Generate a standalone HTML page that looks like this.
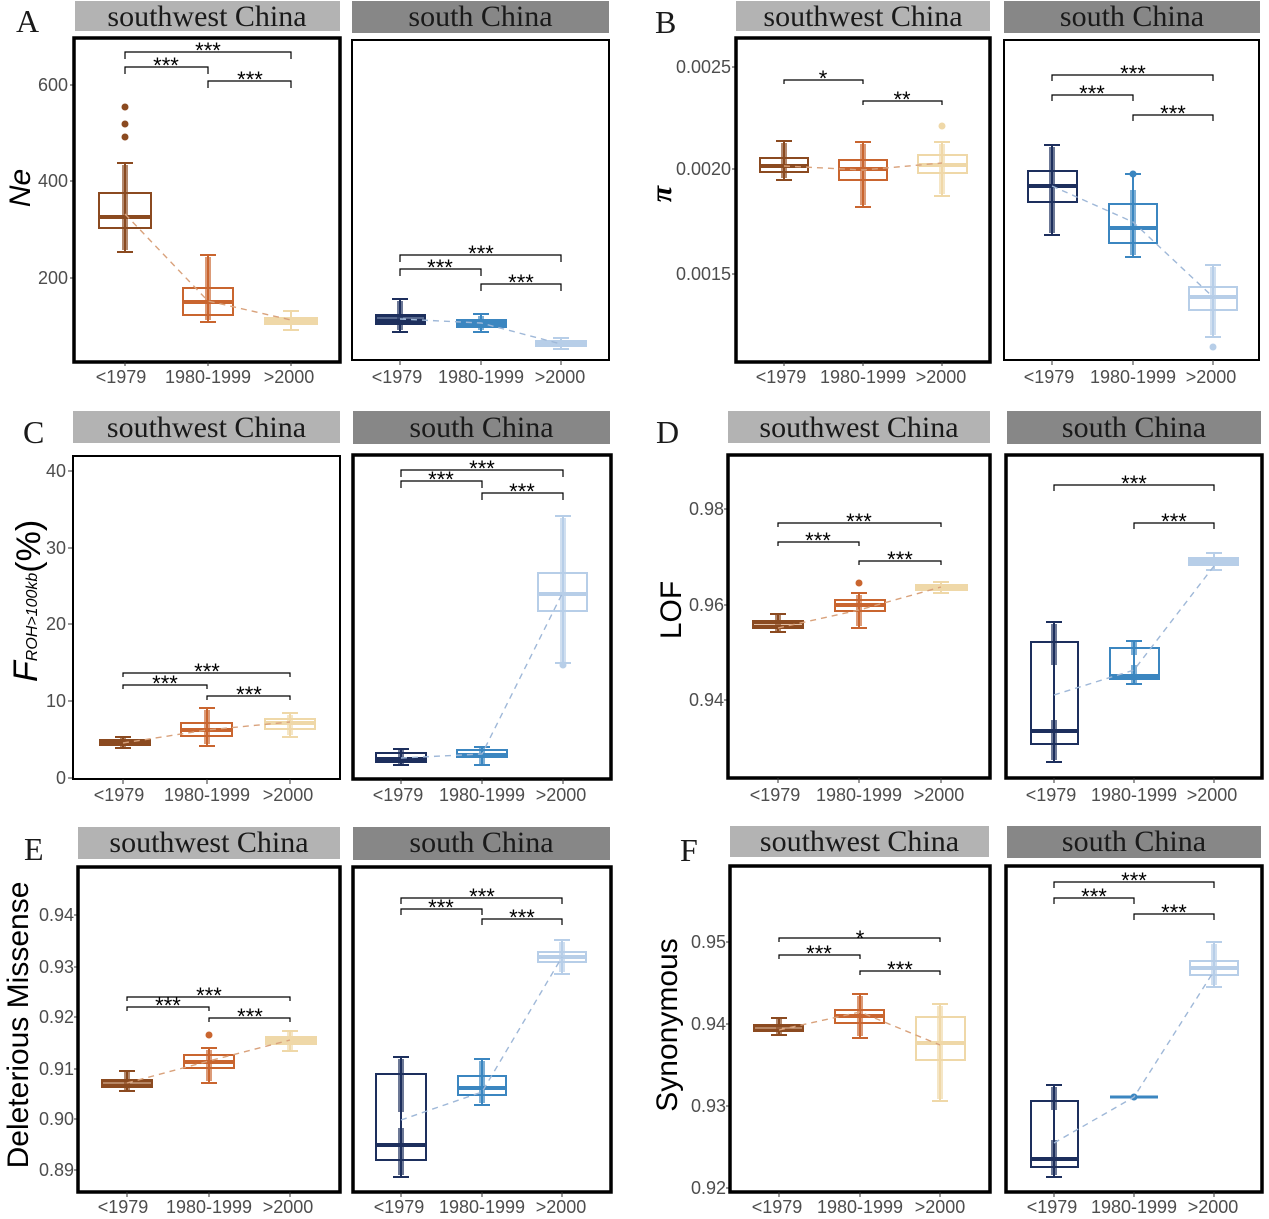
<!DOCTYPE html>
<html><head><meta charset="utf-8"><style>
html,body{margin:0;padding:0;background:#fff;}
svg{display:block;}
.st{font-family:"Liberation Serif","Times New Roman",serif;font-size:30px;fill:#1a1a1a;text-anchor:middle;}
.pl{font-family:"Liberation Serif","Times New Roman",serif;font-size:32px;fill:#1a1a1a;}
.tk{font-family:"Liberation Sans",Arial,sans-serif;font-size:18px;fill:#4d4d4d;}
.xl{text-anchor:middle;}
.yl{text-anchor:end;}
.ax{font-family:"Liberation Sans",Arial,sans-serif;font-size:30px;fill:#000;text-anchor:middle;}
.sg{font-family:"Liberation Sans",Arial,sans-serif;font-size:22px;fill:#000;text-anchor:middle;}
.br{fill:none;stroke:#000;stroke-width:1.2;}
.tm{stroke:#333;stroke-width:1;}
.fr{fill:none;stroke:#000;}
.d1{fill:none;stroke:#D9A27C;stroke-width:1.4;stroke-dasharray:6 5;}
.d2{fill:none;stroke:#9FB8D8;stroke-width:1.4;stroke-dasharray:6 5;}
</style></head><body>
<svg width="1269" height="1219" viewBox="0 0 1269 1219" xmlns="http://www.w3.org/2000/svg">
<rect width="1269" height="1219" fill="#fff"/>

<!-- ================= ROW 1 ================= -->
<text class="pl" x="16" y="32">A</text>
<text class="pl" x="655" y="33">B</text>
<rect x="75" y="1" width="265" height="30" fill="#b3b3b3"/>
<text class="st" x="207" y="26">southwest China</text>
<rect x="352" y="1" width="257" height="32" fill="#878787"/>
<text class="st" x="480.5" y="26">south China</text>
<rect x="736" y="1" width="254" height="30" fill="#b3b3b3"/>
<text class="st" x="863" y="26">southwest China</text>
<rect x="1004" y="1" width="256" height="32" fill="#878787"/>
<text class="st" x="1132" y="26">south China</text>

<!-- A axis label -->
<text class="ax" font-style="italic" font-size="28" transform="translate(30,188) rotate(-90)">Ne</text>
<text class="tk yl" x="68" y="91">600</text>
<text class="tk yl" x="68" y="187">400</text>
<text class="tk yl" x="68" y="284">200</text>
<line class="tm" x1="70" y1="85" x2="74" y2="85"/><line class="tm" x1="70" y1="181" x2="74" y2="181"/><line class="tm" x1="70" y1="278" x2="74" y2="278"/>

<!-- A SW -->
<g stroke="#8B4A20" fill="none" stroke-width="2">
<line x1="125" y1="163" x2="125" y2="252"/><line x1="117" y1="163" x2="133" y2="163"/><line x1="117" y1="252" x2="133" y2="252"/>
<rect x="99" y="193" width="52" height="35"/><line x1="99" y1="217" x2="151" y2="217" stroke-width="4"/>
<line x1="125" y1="165" x2="125" y2="250" stroke-width="6" stroke-opacity=".65"/>
</g>
<g fill="#8B4A20"><circle cx="125" cy="107" r="3.5"/><circle cx="125" cy="124" r="3.5"/><circle cx="125" cy="137" r="3.5"/></g>
<g stroke="#C9652F" fill="none" stroke-width="2">
<line x1="208" y1="255" x2="208" y2="322"/><line x1="200" y1="255" x2="216" y2="255"/><line x1="200" y1="322" x2="216" y2="322"/>
<rect x="183" y="288" width="50" height="27"/><line x1="183" y1="302" x2="233" y2="302" stroke-width="4"/>
<line x1="208" y1="257" x2="208" y2="320" stroke-width="6" stroke-opacity=".65"/>
</g>
<g stroke="#EFD8A8" fill="none" stroke-width="2">
<line x1="291" y1="311" x2="291" y2="330"/><line x1="283" y1="311" x2="299" y2="311"/><line x1="283" y1="330" x2="299" y2="330"/>
<rect x="265" y="318" width="52" height="6" fill="#EFD8A8"/>
</g>
<polyline class="d1" points="125,214 208,301 291,320"/>
<path class="br" d="M125 59V52H291V59"/><text class="sg" x="208" y="58">***</text>
<path class="br" d="M125 74V67H208V74"/><text class="sg" x="166" y="73">***</text>
<path class="br" d="M208 88V81H291V88"/><text class="sg" x="250" y="87">***</text>
<rect class="fr" x="74" y="38" width="266" height="324" stroke-width="3.5"/>
<line class="tm" x1="125" y1="362" x2="125" y2="366"/><line class="tm" x1="208" y1="362" x2="208" y2="366"/><line class="tm" x1="291" y1="362" x2="291" y2="366"/>
<text class="tk xl" x="121" y="383">&lt;1979</text><text class="tk xl" x="208" y="383">1980-1999</text><text class="tk xl" x="289" y="383">&gt;2000</text>

<!-- A S -->
<g stroke="#1D2F5D" fill="none" stroke-width="2">
<line x1="400" y1="299" x2="400" y2="332"/><line x1="392" y1="299" x2="408" y2="299"/><line x1="392" y1="332" x2="408" y2="332"/>
<rect x="376" y="315" width="49" height="9" fill="#1D2F5D"/><line x1="377" y1="318" x2="424" y2="318" stroke="#8fa0c0" stroke-width="1"/>
<line x1="400" y1="301" x2="400" y2="330" stroke-width="6" stroke-opacity=".65"/>
</g>
<g stroke="#3B86C0" fill="none" stroke-width="2">
<line x1="481" y1="314" x2="481" y2="332"/><line x1="473" y1="314" x2="489" y2="314"/><line x1="473" y1="332" x2="489" y2="332"/>
<rect x="457" y="320" width="49" height="7" fill="#3B86C0"/>
<line x1="481" y1="316" x2="481" y2="330" stroke-width="6" stroke-opacity=".65"/>
</g>
<g stroke="#B7CEE8" fill="none" stroke-width="2">
<line x1="561" y1="338" x2="561" y2="349"/><line x1="553" y1="338" x2="569" y2="338"/><line x1="553" y1="349" x2="569" y2="349"/>
<rect x="536" y="341" width="50" height="5" fill="#B7CEE8"/>
</g>
<polyline class="d2" points="400,319 481,323 561,344"/>
<path class="br" d="M400 262V255H561V262"/><text class="sg" x="481" y="261">***</text>
<path class="br" d="M400 276V269H481V276"/><text class="sg" x="440" y="275">***</text>
<path class="br" d="M481 291V284H561V291"/><text class="sg" x="521" y="290">***</text>
<rect class="fr" x="352" y="40" width="257" height="320" stroke-width="2"/>
<line class="tm" x1="400" y1="360" x2="400" y2="365"/><line class="tm" x1="481" y1="360" x2="481" y2="365"/><line class="tm" x1="561" y1="360" x2="561" y2="365"/>
<text class="tk xl" x="397" y="383">&lt;1979</text><text class="tk xl" x="481" y="383">1980-1999</text><text class="tk xl" x="560" y="383">&gt;2000</text>

<!-- B axis label -->
<text font-family="Liberation Serif, serif" font-style="italic" font-weight="bold" font-size="30" text-anchor="middle" transform="translate(671,194) rotate(-90)">π</text>
<text class="tk yl" x="731" y="73">0.0025</text>
<text class="tk yl" x="731" y="175">0.0020</text>
<text class="tk yl" x="731" y="280">0.0015</text>
<line class="tm" x1="732" y1="67" x2="736" y2="67"/><line class="tm" x1="732" y1="169" x2="736" y2="169"/><line class="tm" x1="732" y1="274" x2="736" y2="274"/>

<!-- B SW -->
<g stroke="#8B4A20" fill="none" stroke-width="2">
<line x1="784" y1="141" x2="784" y2="180"/><line x1="776" y1="141" x2="792" y2="141"/><line x1="776" y1="180" x2="792" y2="180"/>
<rect x="760" y="158" width="48" height="14"/><line x1="760" y1="166" x2="808" y2="166" stroke-width="4"/>
<line x1="784" y1="143" x2="784" y2="178" stroke-width="6" stroke-opacity=".65"/>
</g>
<g stroke="#C9652F" fill="none" stroke-width="2">
<line x1="863" y1="142" x2="863" y2="207"/><line x1="855" y1="142" x2="871" y2="142"/><line x1="855" y1="207" x2="871" y2="207"/>
<rect x="839" y="160" width="48" height="20"/><line x1="839" y1="169" x2="887" y2="169" stroke-width="4"/>
<line x1="863" y1="144" x2="863" y2="205" stroke-width="6" stroke-opacity=".65"/>
</g>
<g stroke="#EFD8A8" fill="none" stroke-width="2">
<line x1="942" y1="142" x2="942" y2="196"/><line x1="934" y1="142" x2="950" y2="142"/><line x1="934" y1="196" x2="950" y2="196"/>
<rect x="918" y="155" width="49" height="18"/><line x1="918" y1="165" x2="967" y2="165" stroke-width="4"/>
<line x1="942" y1="144" x2="942" y2="194" stroke-width="6" stroke-opacity=".65"/>
</g>
<circle cx="942" cy="126" r="3.5" fill="#EFD8A8"/>
<polyline class="d1" points="784,166 863,170 942,163"/>
<path class="br" d="M784 84V80H863V84"/><text class="sg" x="823" y="86">*</text>
<path class="br" d="M863 105V101H942V105"/><text class="sg" x="902" y="107">**</text>
<rect class="fr" x="736" y="38" width="254" height="324" stroke-width="3.5"/>
<line class="tm" x1="784" y1="362" x2="784" y2="366"/><line class="tm" x1="863" y1="362" x2="863" y2="366"/><line class="tm" x1="942" y1="362" x2="942" y2="366"/>
<text class="tk xl" x="781" y="383">&lt;1979</text><text class="tk xl" x="863" y="383">1980-1999</text><text class="tk xl" x="941" y="383">&gt;2000</text>

<!-- B S -->
<g stroke="#1D2F5D" fill="none" stroke-width="2">
<line x1="1052" y1="145" x2="1052" y2="235"/><line x1="1044" y1="145" x2="1060" y2="145"/><line x1="1044" y1="235" x2="1060" y2="235"/>
<rect x="1028" y="171" width="49" height="31"/><line x1="1028" y1="186" x2="1077" y2="186" stroke-width="4"/>
<line x1="1052" y1="147" x2="1052" y2="233" stroke-width="6" stroke-opacity=".65"/>
</g>
<g stroke="#3B86C0" fill="none" stroke-width="2">
<line x1="1133" y1="174" x2="1133" y2="257"/><line x1="1125" y1="174" x2="1141" y2="174"/><line x1="1125" y1="257" x2="1141" y2="257"/>
<rect x="1109" y="204" width="48" height="39"/><line x1="1109" y1="228" x2="1157" y2="228" stroke-width="4"/>
<line x1="1133" y1="190" x2="1133" y2="255" stroke-width="6" stroke-opacity=".65"/>
</g>
<circle cx="1133" cy="174" r="3.5" fill="#3B86C0"/>
<g stroke="#B7CEE8" fill="none" stroke-width="2">
<line x1="1213" y1="265" x2="1213" y2="337"/><line x1="1205" y1="265" x2="1221" y2="265"/><line x1="1205" y1="337" x2="1221" y2="337"/>
<rect x="1189" y="287" width="48" height="23"/><line x1="1189" y1="297" x2="1237" y2="297" stroke-width="4"/>
<line x1="1213" y1="267" x2="1213" y2="335" stroke-width="6" stroke-opacity=".65"/>
</g>
<circle cx="1213" cy="347" r="3.5" fill="#B7CEE8"/>
<polyline class="d2" points="1052,186 1133,222 1213,297"/>
<path class="br" d="M1052 81V75H1213V81"/><text class="sg" x="1133" y="81">***</text>
<path class="br" d="M1052 101V95H1133V101"/><text class="sg" x="1092" y="101">***</text>
<path class="br" d="M1133 121V115H1213V121"/><text class="sg" x="1173" y="121">***</text>
<rect class="fr" x="1004" y="40" width="255" height="320" stroke-width="2"/>
<line class="tm" x1="1052" y1="360" x2="1052" y2="365"/><line class="tm" x1="1133" y1="360" x2="1133" y2="365"/><line class="tm" x1="1213" y1="360" x2="1213" y2="365"/>
<text class="tk xl" x="1049" y="383">&lt;1979</text><text class="tk xl" x="1133" y="383">1980-1999</text><text class="tk xl" x="1211" y="383">&gt;2000</text>

<!-- ================= ROW 2 ================= -->
<text class="pl" x="23" y="443">C</text>
<text class="pl" x="656" y="443">D</text>
<rect x="73" y="411" width="267" height="32" fill="#b3b3b3"/>
<text class="st" x="206.5" y="437">southwest China</text>
<rect x="353" y="411" width="257" height="33" fill="#878787"/>
<text class="st" x="481.5" y="437">south China</text>
<rect x="728" y="411" width="262" height="32" fill="#b3b3b3"/>
<text class="st" x="859" y="437">southwest China</text>
<rect x="1007" y="411" width="254" height="33" fill="#878787"/>
<text class="st" x="1134" y="437">south China</text>

<!-- C axis label -->
<text font-family="Liberation Sans, Arial, sans-serif" fill="#000" transform="translate(37,682) rotate(-90)"><tspan font-size="34" font-style="italic">F</tspan><tspan font-size="16" font-style="italic" dy="0">ROH&gt;100kb</tspan><tspan font-size="34" dy="3">(%)</tspan></text>
<text class="tk yl" x="66" y="477">40</text>
<text class="tk yl" x="66" y="554">30</text>
<text class="tk yl" x="66" y="630">20</text>
<text class="tk yl" x="66" y="707">10</text>
<text class="tk yl" x="66" y="784">0</text>
<line class="tm" x1="68" y1="471" x2="73" y2="471"/><line class="tm" x1="68" y1="548" x2="73" y2="548"/><line class="tm" x1="68" y1="624" x2="73" y2="624"/><line class="tm" x1="68" y1="701" x2="73" y2="701"/><line class="tm" x1="68" y1="778" x2="73" y2="778"/>

<!-- C SW -->
<g stroke="#8B4A20" fill="none" stroke-width="2">
<line x1="123" y1="737" x2="123" y2="748"/><line x1="115" y1="737" x2="131" y2="737"/><line x1="115" y1="748" x2="131" y2="748"/>
<rect x="100" y="740" width="50" height="5" fill="#8B4A20"/>
<line x1="123" y1="738" x2="123" y2="747" stroke-width="6" stroke-opacity=".65"/>
</g>
<g stroke="#C9652F" fill="none" stroke-width="2">
<line x1="207" y1="708" x2="207" y2="746"/><line x1="199" y1="708" x2="215" y2="708"/><line x1="199" y1="746" x2="215" y2="746"/>
<rect x="181" y="723" width="51" height="13"/><line x1="181" y1="730" x2="232" y2="730" stroke-width="4"/>
<line x1="207" y1="710" x2="207" y2="744" stroke-width="6" stroke-opacity=".65"/>
</g>
<g stroke="#EFD8A8" fill="none" stroke-width="2">
<line x1="290" y1="713" x2="290" y2="737"/><line x1="282" y1="713" x2="298" y2="713"/><line x1="282" y1="737" x2="298" y2="737"/>
<rect x="265" y="719" width="50" height="10"/><line x1="265" y1="723" x2="315" y2="723" stroke-width="4"/>
<line x1="290" y1="715" x2="290" y2="735" stroke-width="6" stroke-opacity=".65"/>
</g>
<polyline class="d1" points="123,743 207,730 290,722"/>
<path class="br" d="M123 677V673H290V677"/><text class="sg" x="207" y="679">***</text>
<path class="br" d="M123 689V685H207V689"/><text class="sg" x="165" y="691">***</text>
<path class="br" d="M207 700V696H290V700"/><text class="sg" x="249" y="702">***</text>
<rect class="fr" x="73" y="456" width="267" height="323" stroke-width="2"/>
<line class="tm" x1="123" y1="779" x2="123" y2="784"/><line class="tm" x1="207" y1="779" x2="207" y2="784"/><line class="tm" x1="290" y1="779" x2="290" y2="784"/>
<text class="tk xl" x="119" y="801">&lt;1979</text><text class="tk xl" x="207" y="801">1980-1999</text><text class="tk xl" x="288" y="801">&gt;2000</text>

<!-- C S -->
<g stroke="#1D2F5D" fill="none" stroke-width="2">
<line x1="401" y1="749" x2="401" y2="765"/><line x1="393" y1="749" x2="409" y2="749"/><line x1="393" y1="765" x2="409" y2="765"/>
<rect x="376" y="753" width="50" height="9"/><line x1="376" y1="759" x2="426" y2="759" stroke-width="4"/>
<line x1="401" y1="750" x2="401" y2="764" stroke-width="6" stroke-opacity=".65"/>
</g>
<g stroke="#3B86C0" fill="none" stroke-width="2">
<line x1="482" y1="747" x2="482" y2="765"/><line x1="474" y1="747" x2="490" y2="747"/><line x1="474" y1="765" x2="490" y2="765"/>
<rect x="457" y="750" width="50" height="7"/><line x1="457" y1="755" x2="507" y2="755" stroke-width="4"/>
<line x1="482" y1="748" x2="482" y2="764" stroke-width="6" stroke-opacity=".65"/>
</g>
<g stroke="#B7CEE8" fill="none" stroke-width="2">
<line x1="563" y1="516" x2="563" y2="663"/><line x1="555" y1="516" x2="571" y2="516"/><line x1="555" y1="663" x2="571" y2="663"/>
<rect x="538" y="573" width="49" height="38"/><line x1="538" y1="594" x2="587" y2="594" stroke-width="4"/>
<line x1="563" y1="518" x2="563" y2="662" stroke-width="6" stroke-opacity=".65"/>
</g>
<circle cx="563" cy="665" r="3.5" fill="#B7CEE8"/>
<polyline class="d2" points="401,758 482,754 563,592"/>
<path class="br" d="M401 477V470H563V477"/><text class="sg" x="482" y="476">***</text>
<path class="br" d="M401 488V481H482V488"/><text class="sg" x="441" y="487">***</text>
<path class="br" d="M482 500V493H563V500"/><text class="sg" x="522" y="499">***</text>
<rect class="fr" x="353" y="455" width="258" height="324" stroke-width="3.5"/>
<line class="tm" x1="401" y1="779" x2="401" y2="784"/><line class="tm" x1="482" y1="779" x2="482" y2="784"/><line class="tm" x1="563" y1="779" x2="563" y2="784"/>
<text class="tk xl" x="398" y="801">&lt;1979</text><text class="tk xl" x="482" y="801">1980-1999</text><text class="tk xl" x="561" y="801">&gt;2000</text>

<!-- D axis label -->
<text class="ax" font-size="30" transform="translate(681,610) rotate(-90)">LOF</text>
<text class="tk yl" x="724" y="515">0.98</text>
<text class="tk yl" x="724" y="611">0.96</text>
<text class="tk yl" x="724" y="706">0.94</text>
<line class="tm" x1="724" y1="509" x2="728" y2="509"/><line class="tm" x1="724" y1="605" x2="728" y2="605"/><line class="tm" x1="724" y1="700" x2="728" y2="700"/>

<!-- D SW -->
<g stroke="#8B4A20" fill="none" stroke-width="2">
<line x1="778" y1="614" x2="778" y2="632"/><line x1="770" y1="614" x2="786" y2="614"/><line x1="770" y1="632" x2="786" y2="632"/>
<rect x="753" y="621" width="50" height="7" fill="#8B4A20"/><line x1="754" y1="624.5" x2="802" y2="624.5" stroke="#e3c2a8" stroke-width="1"/>
<line x1="778" y1="615" x2="778" y2="631" stroke-width="6" stroke-opacity=".65"/>
</g>
<g stroke="#C9652F" fill="none" stroke-width="2">
<line x1="859" y1="593" x2="859" y2="628"/><line x1="851" y1="593" x2="867" y2="593"/><line x1="851" y1="628" x2="867" y2="628"/>
<rect x="835" y="600" width="50" height="11"/><line x1="835" y1="605" x2="885" y2="605" stroke-width="4"/>
<line x1="859" y1="595" x2="859" y2="626" stroke-width="6" stroke-opacity=".65"/>
</g>
<circle cx="859" cy="583" r="3.5" fill="#C9652F"/>
<g stroke="#EFD8A8" fill="none" stroke-width="2">
<line x1="941" y1="582" x2="941" y2="593"/><line x1="933" y1="582" x2="949" y2="582"/><line x1="933" y1="593" x2="949" y2="593"/>
<rect x="916" y="585" width="51" height="5" fill="#EFD8A8"/>
</g>
<polyline class="d1" points="778,628 859,610 941,587"/>
<path class="br" d="M778 527V523H941V527"/><text class="sg" x="859" y="529">***</text>
<path class="br" d="M778 546V542H859V546"/><text class="sg" x="818" y="548">***</text>
<path class="br" d="M859 565V561H941V565"/><text class="sg" x="900" y="567">***</text>
<rect class="fr" x="728" y="455" width="262" height="323" stroke-width="3.5"/>
<line class="tm" x1="778" y1="778" x2="778" y2="783"/><line class="tm" x1="859" y1="778" x2="859" y2="783"/><line class="tm" x1="941" y1="778" x2="941" y2="783"/>
<text class="tk xl" x="775" y="801">&lt;1979</text><text class="tk xl" x="859" y="801">1980-1999</text><text class="tk xl" x="939" y="801">&gt;2000</text>

<!-- D S -->
<g stroke="#1D2F5D" fill="none" stroke-width="2">
<line x1="1054" y1="622" x2="1054" y2="762"/><line x1="1046" y1="622" x2="1062" y2="622"/><line x1="1046" y1="762" x2="1062" y2="762"/>
<rect x="1031" y="642" width="47" height="102"/><line x1="1031" y1="731" x2="1078" y2="731" stroke-width="4"/>
<line x1="1054" y1="624" x2="1054" y2="665" stroke-width="6" stroke-opacity=".65"/>
<line x1="1054" y1="720" x2="1054" y2="760" stroke-width="6" stroke-opacity=".65"/>
</g>
<g stroke="#3B86C0" fill="none" stroke-width="2">
<line x1="1134" y1="641" x2="1134" y2="684"/><line x1="1126" y1="641" x2="1142" y2="641"/><line x1="1126" y1="684" x2="1142" y2="684"/>
<rect x="1110" y="648" width="49" height="31"/><line x1="1110" y1="676" x2="1159" y2="676" stroke-width="4"/>
<line x1="1134" y1="642" x2="1134" y2="655" stroke-width="6" stroke-opacity=".65"/>
<line x1="1134" y1="665" x2="1134" y2="683" stroke-width="6" stroke-opacity=".65"/>
</g>
<g stroke="#B7CEE8" fill="none" stroke-width="2">
<line x1="1214" y1="553" x2="1214" y2="570"/><line x1="1206" y1="553" x2="1222" y2="553"/><line x1="1206" y1="570" x2="1222" y2="570"/>
<rect x="1189" y="558" width="49" height="7" fill="#B7CEE8"/>
</g>
<polyline class="d2" points="1054,695 1134,670 1214,566"/>
<path class="br" d="M1054 491V485H1214V491"/><text class="sg" x="1134" y="491">***</text>
<path class="br" d="M1134 529V523H1214V529"/><text class="sg" x="1174" y="529">***</text>
<rect class="fr" x="1006" y="455" width="256" height="323" stroke-width="3.5"/>
<line class="tm" x1="1054" y1="778" x2="1054" y2="783"/><line class="tm" x1="1134" y1="778" x2="1134" y2="783"/><line class="tm" x1="1214" y1="778" x2="1214" y2="783"/>
<text class="tk xl" x="1051" y="801">&lt;1979</text><text class="tk xl" x="1134" y="801">1980-1999</text><text class="tk xl" x="1212" y="801">&gt;2000</text>

<!-- ================= ROW 3 ================= -->
<text class="pl" x="24" y="860">E</text>
<text class="pl" x="680" y="861">F</text>
<rect x="78" y="827" width="262" height="32" fill="#b3b3b3"/>
<text class="st" x="209" y="852">southwest China</text>
<rect x="353" y="827" width="257" height="33" fill="#878787"/>
<text class="st" x="481.5" y="852">south China</text>
<rect x="730" y="826" width="259" height="31" fill="#b3b3b3"/>
<text class="st" x="859.5" y="851">southwest China</text>
<rect x="1007" y="826" width="254" height="32" fill="#878787"/>
<text class="st" x="1134" y="851">south China</text>

<!-- E axis label -->
<text class="ax" font-size="30" transform="translate(28,1025) rotate(-90)">Deleterious Missense</text>
<text class="tk yl" x="74" y="921">0.94</text>
<text class="tk yl" x="74" y="973">0.93</text>
<text class="tk yl" x="74" y="1023">0.92</text>
<text class="tk yl" x="74" y="1075">0.91</text>
<text class="tk yl" x="74" y="1125">0.90</text>
<text class="tk yl" x="74" y="1176">0.89</text>
<line class="tm" x1="74" y1="915" x2="78" y2="915"/><line class="tm" x1="74" y1="967" x2="78" y2="967"/><line class="tm" x1="74" y1="1017" x2="78" y2="1017"/><line class="tm" x1="74" y1="1069" x2="78" y2="1069"/><line class="tm" x1="74" y1="1119" x2="78" y2="1119"/><line class="tm" x1="74" y1="1170" x2="78" y2="1170"/>

<!-- E SW -->
<g stroke="#8B4A20" fill="none" stroke-width="2">
<line x1="127" y1="1071" x2="127" y2="1091"/><line x1="119" y1="1071" x2="135" y2="1071"/><line x1="119" y1="1091" x2="135" y2="1091"/>
<rect x="102" y="1080" width="50" height="7" fill="#8B4A20"/><line x1="103" y1="1083" x2="151" y2="1083" stroke="#e3c2a8" stroke-width="1"/>
<line x1="127" y1="1072" x2="127" y2="1090" stroke-width="6" stroke-opacity=".65"/>
</g>
<g stroke="#C9652F" fill="none" stroke-width="2">
<line x1="209" y1="1048" x2="209" y2="1083"/><line x1="201" y1="1048" x2="217" y2="1048"/><line x1="201" y1="1083" x2="217" y2="1083"/>
<rect x="184" y="1055" width="50" height="13"/><line x1="184" y1="1062" x2="234" y2="1062" stroke-width="4"/>
<line x1="209" y1="1050" x2="209" y2="1081" stroke-width="6" stroke-opacity=".65"/>
</g>
<circle cx="209" cy="1035" r="3.5" fill="#C9652F"/>
<g stroke="#EFD8A8" fill="none" stroke-width="2">
<line x1="290" y1="1031" x2="290" y2="1051"/><line x1="282" y1="1031" x2="298" y2="1031"/><line x1="282" y1="1051" x2="298" y2="1051"/>
<rect x="266" y="1037" width="50" height="7" fill="#EFD8A8"/>
<line x1="290" y1="1032" x2="290" y2="1050" stroke-width="6" stroke-opacity=".65"/>
</g>
<polyline class="d1" points="127,1083 209,1061 290,1040"/>
<path class="br" d="M127 1001V997H290V1001"/><text class="sg" x="209" y="1003">***</text>
<path class="br" d="M127 1011V1007H209V1011"/><text class="sg" x="168" y="1013">***</text>
<path class="br" d="M209 1022V1018H290V1022"/><text class="sg" x="250" y="1024">***</text>
<rect class="fr" x="78" y="867" width="262" height="325" stroke-width="3.5"/>
<line class="tm" x1="127" y1="1192" x2="127" y2="1197"/><line class="tm" x1="209" y1="1192" x2="209" y2="1197"/><line class="tm" x1="290" y1="1192" x2="290" y2="1197"/>
<text class="tk xl" x="123" y="1213">&lt;1979</text><text class="tk xl" x="209" y="1213">1980-1999</text><text class="tk xl" x="288" y="1213">&gt;2000</text>

<!-- E S -->
<g stroke="#1D2F5D" fill="none" stroke-width="2">
<line x1="401" y1="1057" x2="401" y2="1177"/><line x1="393" y1="1057" x2="409" y2="1057"/><line x1="393" y1="1177" x2="409" y2="1177"/>
<rect x="376" y="1074" width="50" height="86"/><line x1="376" y1="1145" x2="426" y2="1145" stroke-width="4"/>
<line x1="401" y1="1059" x2="401" y2="1112" stroke-width="6" stroke-opacity=".65"/>
<line x1="401" y1="1128" x2="401" y2="1175" stroke-width="6" stroke-opacity=".65"/>
</g>
<g stroke="#3B86C0" fill="none" stroke-width="2">
<line x1="482" y1="1059" x2="482" y2="1105"/><line x1="474" y1="1059" x2="490" y2="1059"/><line x1="474" y1="1105" x2="490" y2="1105"/>
<rect x="458" y="1076" width="48" height="19"/><line x1="458" y1="1088" x2="506" y2="1088" stroke-width="4"/>
<line x1="482" y1="1061" x2="482" y2="1103" stroke-width="6" stroke-opacity=".65"/>
</g>
<g stroke="#B7CEE8" fill="none" stroke-width="2">
<line x1="562" y1="940" x2="562" y2="974"/><line x1="554" y1="940" x2="570" y2="940"/><line x1="554" y1="974" x2="570" y2="974"/>
<rect x="538" y="952" width="48" height="10"/><line x1="538" y1="957" x2="586" y2="957" stroke-width="4"/>
<line x1="562" y1="942" x2="562" y2="972" stroke-width="6" stroke-opacity=".65"/>
</g>
<polyline class="d2" points="401,1120 482,1092 562,957"/>
<path class="br" d="M401 904V898H562V904"/><text class="sg" x="482" y="904">***</text>
<path class="br" d="M401 915V909H482V915"/><text class="sg" x="441" y="915">***</text>
<path class="br" d="M482 925V919H562V925"/><text class="sg" x="522" y="925">***</text>
<rect class="fr" x="353" y="867" width="258" height="325" stroke-width="3.5"/>
<line class="tm" x1="401" y1="1192" x2="401" y2="1197"/><line class="tm" x1="482" y1="1192" x2="482" y2="1197"/><line class="tm" x1="562" y1="1192" x2="562" y2="1197"/>
<text class="tk xl" x="399" y="1213">&lt;1979</text><text class="tk xl" x="482" y="1213">1980-1999</text><text class="tk xl" x="561" y="1213">&gt;2000</text>

<!-- F axis label -->
<text class="ax" font-size="30" transform="translate(677,1025) rotate(-90)">Synonymous</text>
<text class="tk yl" x="726" y="948">0.95</text>
<text class="tk yl" x="726" y="1030">0.94</text>
<text class="tk yl" x="726" y="1112">0.93</text>
<text class="tk yl" x="726" y="1194">0.92</text>
<line class="tm" x1="726" y1="942" x2="730" y2="942"/><line class="tm" x1="726" y1="1024" x2="730" y2="1024"/><line class="tm" x1="726" y1="1106" x2="730" y2="1106"/><line class="tm" x1="726" y1="1188" x2="730" y2="1188"/>

<!-- F SW -->
<g stroke="#8B4A20" fill="none" stroke-width="2">
<line x1="779" y1="1018" x2="779" y2="1035"/><line x1="771" y1="1018" x2="787" y2="1018"/><line x1="771" y1="1035" x2="787" y2="1035"/>
<rect x="754" y="1025" width="49" height="6" fill="#8B4A20"/><line x1="755" y1="1028" x2="802" y2="1028" stroke="#e3c2a8" stroke-width="1"/>
<line x1="779" y1="1019" x2="779" y2="1034" stroke-width="6" stroke-opacity=".65"/>
</g>
<g stroke="#C9652F" fill="none" stroke-width="2">
<line x1="860" y1="994" x2="860" y2="1038"/><line x1="852" y1="994" x2="868" y2="994"/><line x1="852" y1="1038" x2="868" y2="1038"/>
<rect x="835" y="1010" width="49" height="13"/><line x1="835" y1="1016" x2="884" y2="1016" stroke-width="4"/>
<line x1="860" y1="996" x2="860" y2="1036" stroke-width="6" stroke-opacity=".65"/>
</g>
<g stroke="#EFD8A8" fill="none" stroke-width="2">
<line x1="940" y1="1004" x2="940" y2="1101"/><line x1="932" y1="1004" x2="948" y2="1004"/><line x1="932" y1="1101" x2="948" y2="1101"/>
<rect x="916" y="1017" width="49" height="43"/><line x1="916" y1="1043" x2="965" y2="1043" stroke-width="4"/>
<line x1="940" y1="1006" x2="940" y2="1099" stroke-width="6" stroke-opacity=".65"/>
</g>
<polyline class="d1" points="779,1030 860,1012 940,1045"/>
<path class="br" d="M779 942V938H940V942"/><text class="sg" x="860" y="946">*</text>
<path class="br" d="M779 959V955H860V959"/><text class="sg" x="819" y="961">***</text>
<path class="br" d="M860 975V971H940V975"/><text class="sg" x="900" y="977">***</text>
<rect class="fr" x="730" y="866" width="260" height="326" stroke-width="3.5"/>
<line class="tm" x1="779" y1="1192" x2="779" y2="1197"/><line class="tm" x1="860" y1="1192" x2="860" y2="1197"/><line class="tm" x1="940" y1="1192" x2="940" y2="1197"/>
<text class="tk xl" x="777" y="1213">&lt;1979</text><text class="tk xl" x="860" y="1213">1980-1999</text><text class="tk xl" x="940" y="1213">&gt;2000</text>

<!-- F S -->
<g stroke="#1D2F5D" fill="none" stroke-width="2">
<line x1="1054" y1="1085" x2="1054" y2="1177"/><line x1="1046" y1="1085" x2="1062" y2="1085"/><line x1="1046" y1="1177" x2="1062" y2="1177"/>
<rect x="1031" y="1101" width="47" height="66"/><line x1="1031" y1="1159" x2="1078" y2="1159" stroke-width="4"/>
<line x1="1054" y1="1087" x2="1054" y2="1110" stroke-width="6" stroke-opacity=".65"/>
<line x1="1054" y1="1140" x2="1054" y2="1175" stroke-width="6" stroke-opacity=".65"/>
</g>
<line x1="1110" y1="1097" x2="1158" y2="1097" stroke="#3B86C0" stroke-width="3"/>
<circle cx="1134" cy="1097" r="3.5" fill="#3B86C0"/>
<g stroke="#B7CEE8" fill="none" stroke-width="2">
<line x1="1214" y1="942" x2="1214" y2="987"/><line x1="1206" y1="942" x2="1222" y2="942"/><line x1="1206" y1="987" x2="1222" y2="987"/>
<rect x="1190" y="961" width="48" height="14"/><line x1="1190" y1="968" x2="1238" y2="968" stroke-width="4"/>
<line x1="1214" y1="944" x2="1214" y2="985" stroke-width="6" stroke-opacity=".65"/>
</g>
<polyline class="d2" points="1054,1143 1134,1097 1214,971"/>
<path class="br" d="M1054 888V882H1214V888"/><text class="sg" x="1134" y="888">***</text>
<path class="br" d="M1054 904V898H1134V904"/><text class="sg" x="1094" y="904">***</text>
<path class="br" d="M1134 920V914H1214V920"/><text class="sg" x="1174" y="920">***</text>
<rect class="fr" x="1006" y="866" width="256" height="326" stroke-width="3.5"/>
<line class="tm" x1="1054" y1="1192" x2="1054" y2="1197"/><line class="tm" x1="1134" y1="1192" x2="1134" y2="1197"/><line class="tm" x1="1214" y1="1192" x2="1214" y2="1197"/>
<text class="tk xl" x="1052" y="1213">&lt;1979</text><text class="tk xl" x="1134" y="1213">1980-1999</text><text class="tk xl" x="1213" y="1213">&gt;2000</text>
</svg>
</body></html>
